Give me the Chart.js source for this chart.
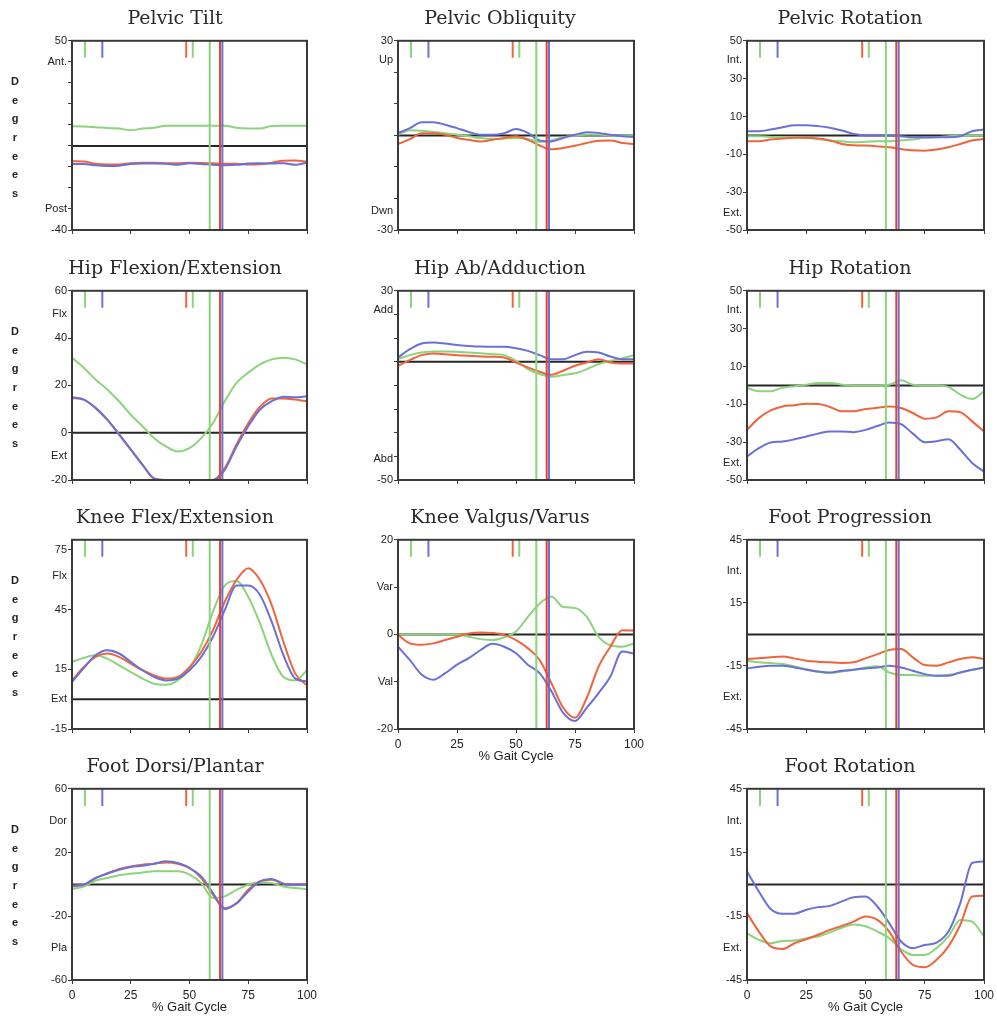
<!DOCTYPE html>
<html>
<head>
<meta charset="utf-8">
<script src="https://cdn.jsdelivr.net/npm/chart.js@4.4.1/dist/chart.umd.min.js"></script>
<style>
  body { margin: 0; background: #fff; }
  #wrap { position: relative; width: 997px; height: 1021px; overflow: hidden; }
</style>
</head>
<body>
<div id="wrap"></div>
<script>
'use strict'

// % gait cycle, shared by every curve
const gaitPct = [0, 5, 10, 15, 20, 25, 30, 35, 40, 45, 50, 55, 60, 65, 70, 75, 80, 85, 90, 95, 100];

// gait events (% cycle) : full height lines and short marks at the top
const footOffPct = { green: 58.6, red: 63.0, blue: 64.0 };
const topMarkPct = [5.5, 12.9, 48.6, 51.4];
const topMarkSide = ['green', 'blue', 'red', 'green'];

// Pelvic Tilt
const tiltG = [9.4, 9.2, 8.9, 8.5, 8.3, 7.4, 8.3, 8.6, 9.6, 9.6, 9.6, 9.6, 9.6, 9.6, 8.6, 8.3, 8.3, 9.5, 9.6, 9.6, 9.6];
const tiltR = [-7.3, -7.4, -8.5, -8.8, -8.8, -8.2, -8.0, -8.0, -8.2, -8.3, -8.0, -8.1, -8.3, -8.5, -8.5, -8.9, -8.7, -8.0, -7.0, -6.9, -7.6];
const tiltB = [-8.6, -8.6, -9.2, -9.5, -9.4, -8.6, -8.4, -8.4, -8.5, -9.0, -8.3, -8.6, -9.0, -9.2, -9.0, -8.4, -8.3, -8.4, -8.2, -9.0, -8.0];
const tiltMarks = [-40, -30, -20, -10, 0, 10, 20, 30, 40, 50];
const tiltLabels = [[50, '50'], [40, 'Ant.'], [-30, 'Post'], [-40, '-40']];

// Pelvic Obliquity
const oblG = [0.2, 1.6, 1.5, 1.1, 0.7, 0.2, -0.3, -0.8, -1.1, -1.0, -0.8, -1.1, -2.0, -1.6, -0.6, 0, 0.2, 0.2, 0, -0.1, -0.1];
const oblR = [-2.7, -1.2, 0.7, 0.7, 0.2, -0.8, -1.4, -1.9, -1.4, -0.8, -0.3, -1.4, -3.2, -4.4, -4.0, -3.3, -2.4, -1.7, -1.6, -2.4, -2.7];
const oblB = [0.7, 2.3, 4.2, 4.2, 3.4, 2.3, 1.1, 0.2, 0.2, 0.7, 2.0, 0.8, -1.6, -1.9, -0.8, 0.2, 1.0, 0.8, 0.2, -0.3, -0.5];
const oblMarks = [-30, -20, -10, 0, 10, 20, 30];
const oblLabels = [[30, '30'], [24, 'Up'], [-24, 'Dwn'], [-30, '-30']];

// Pelvic Rotation
const pRotG = [-0.4, -0.4, -0.8, -0.8, -1, -1.3, -1.9, -2.7, -3.1, -3.6, -3.4, -3.1, -3.1, -2.7, -2.2, -1.3, -1, -0.4, -0.1, -0.1, -0.1];
const pRotR = [-3.1, -3.1, -2.2, -1.7, -1.3, -1.3, -1.7, -2.7, -4.5, -5.2, -5.4, -5.8, -6.3, -7.2, -7.9, -8.1, -7.5, -6.3, -4.5, -2.7, -1.9];
const pRotB = [2.2, 2.2, 3.1, 4.3, 5.4, 5.4, 4.9, 4.0, 2.6, 0.8, 0, 0, -0.1, -0.4, -1, -1, -1, -1, -0.4, 2.2, 3.1];
const rotMarks = [-50, -30, -10, 10, 30, 50];
const rotLabels = [[50, '50'], [40, 'Int.'], [30, '30'], [10, '10'], [-10, '-10'], [-30, '-30'], [-41, 'Ext.'], [-50, '-50']];

// Hip Flexion/Extension
const hipFlexG = [31.7, 27.5, 22.5, 18.3, 13.3, 7.6, 2.7, -2.3, -5.8, -7.9, -6.5, -2.3, 4.1, 13.3, 21.1, 25.4, 28.9, 31.0, 31.7, 31.0, 28.9];
const hipFlexR = [14.7, 14.0, 10.5, 5.5, -0.5, -7.0, -13.5, -19.5, -20, -20, -20, -20, -20, -15, -5, 4, 11, 14.5, 14.5, 14, 13.3];
const hipFlexB = [15.0, 14.0, 10.5, 5.5, -0.8, -7.2, -13.6, -19.3, -20, -20, -20, -20, -20, -15.7, -5.8, 2.7, 9.8, 13.3, 15.2, 15.0, 15.4];
const hipFlexMarks = [-20, 0, 20, 40, 60];
const hipFlexLabels = [[60, '60'], [50, 'Flx'], [40, '40'], [20, '20'], [0, '0'], [-10, 'Ext'], [-20, '-20']];

// Hip Ab/Adduction
const hipAbdG = [1.1, 2.8, 3.9, 4.3, 4.3, 4.2, 3.9, 3.6, 3.2, 2.8, 0.4, -3.1, -5.2, -6.3, -5.6, -4.9, -3.1, -1.0, 0.4, 1.4, 2.8];
const hipAbdR = [-1.7, 0.7, 2.8, 3.5, 3.2, 2.8, 2.5, 2.2, 2.1, 1.8, -0.3, -2.4, -4.2, -5.5, -3.8, -1.7, -0.3, 1.1, -0.3, -0.7, -0.7];
const hipAbdB = [1.8, 5.3, 7.7, 8.1, 7.7, 7.1, 6.7, 6.4, 6.3, 6.3, 5.7, 4.6, 2.8, 1.1, 1.1, 2.8, 4.2, 3.9, 2.2, 1.1, 1.1];
const hipAbdMarks = [-50, -40, -30, -20, -10, 0, 10, 20, 30];
const hipAbdLabels = [[30, '30'], [22, 'Add'], [-41, 'Abd'], [-50, '-50']];

// Hip Rotation
const hipRotG = [-1.3, -3.1, -3.1, -1.3, -0.4, 0.4, 1.3, 1.3, 0.4, 0, 0, 0, 0.4, 2.7, 0.4, 0, 0, -0.8, -4.9, -7.2, -3.1];
const hipRotR = [-23.5, -17.3, -13.2, -11.1, -10.5, -9.7, -9.8, -11.4, -13.7, -13.7, -12.5, -11.8, -11.1, -11.9, -14.6, -17.6, -16.9, -13.7, -14.2, -19, -24.3];
const hipRotB = [-37.6, -33.2, -30.2, -29.7, -28.5, -27, -25.5, -24.3, -24.3, -24.7, -23.5, -21.5, -19.6, -20.5, -25.5, -30, -29.5, -28.5, -34, -41, -45.6];

// Knee Flex/Extension
const kneeFlexG = [18.7, 20.7, 22.0, 20.3, 17.0, 13.6, 10.3, 7.7, 7.2, 9.4, 15.3, 27.1, 43.9, 57.0, 59.3, 51.4, 38.0, 22.0, 11.1, 9.4, 14.5];
const kneeFlexR = [9.4, 16.1, 21.2, 22.9, 21.2, 17.8, 14.5, 11.9, 10.3, 11.1, 16.1, 23.7, 34.6, 48.9, 59.8, 65.7, 59.8, 47.2, 28.7, 12.8, 6.9];
const kneeFlexB = [8.6, 15.6, 22.0, 24.5, 22.9, 18.7, 14.5, 11.1, 9.4, 10.3, 14.5, 21.2, 31.3, 44.7, 57.0, 57.0, 52.3, 38.8, 22.0, 10.3, 8.9];
const kneeFlexMarks = [-15, 15, 45, 75];
const kneeFlexLabels = [[75, '75'], [62, 'Flx'], [45, '45'], [15, '15'], [0, 'Ext'], [-15, '-15']];

// Knee Valgus/Varus
const kneeVarG = [0, 0, 0, 0, 0, 0, -0.5, -1.0, -1.2, -0.6, 0.6, 3.7, 6.5, 8.0, 5.8, 5.6, 3.7, -0.5, -2.3, -2.6, -1.9];
const kneeVarR = [-0.1, -1.9, -2.2, -1.9, -1.2, -0.5, 0.2, 0.4, 0.3, -0.1, -1.2, -2.9, -5.4, -10.3, -15.5, -17.6, -13.4, -6.8, -2.6, 0.9, 0.8];
const kneeVarB = [-2.6, -5.4, -8.5, -9.6, -8.2, -6.4, -5.0, -3.3, -2.0, -2.6, -4.0, -6.4, -8.2, -12.0, -16.6, -18.3, -15.5, -12.4, -8.9, -3.6, -4.1];
const kneeVarMarks = [-20, -10, 0, 10, 20];
const kneeVarLabels = [[20, '20'], [10, 'Var'], [0, '0'], [-10, 'Val'], [-20, '-20']];

// Foot Progression
const footProgG = [-12.5, -13.3, -13.6, -14.1, -15.2, -16.5, -17.7, -18.4, -17.7, -16.8, -15.7, -15.2, -18.1, -19.3, -19.3, -19.7, -19.7, -19.2, -18.1, -16.8, -15.7];
const footProgR = [-11.7, -11.4, -10.9, -10.5, -11.4, -12.5, -13.0, -13.3, -13.6, -13.3, -11.4, -9.4, -7.4, -7.0, -10.9, -14.6, -14.9, -13.3, -11.7, -10.9, -11.7];
const footProgB = [-16.2, -15.4, -14.9, -14.9, -15.7, -16.8, -17.7, -18.1, -17.3, -16.8, -16.2, -15.7, -14.9, -15.7, -17.3, -18.9, -19.7, -19.7, -18.1, -16.8, -15.7];
const footMarks = [-45, -15, 15, 45];
const footLabels = [[45, '45'], [30, 'Int.'], [15, '15'], [-15, '-15'], [-30, 'Ext.'], [-45, '-45']];

// Foot Dorsi/Plantar
const dorsiG = [-2.9, -1.3, 2.3, 4.0, 5.7, 6.7, 7.5, 8.2, 8.2, 8.2, 6.1, 0.8, -8.6, -7.5, -3.4, -0.2, 1.3, 0.8, -1.3, -2.3, -2.9];
const dorsiR = [-0.8, -0.2, 4.0, 7.1, 9.6, 11.3, 12.4, 13.0, 13.8, 13.0, 10.3, 4.0, -6.5, -14.9, -11.7, -3.4, 1.9, 2.9, 0.4, -0.2, 0.2];
const dorsiB = [-1.3, -0.2, 4.0, 6.7, 9.2, 10.9, 11.7, 13.0, 14.5, 13.4, 10.3, 5.0, -5.5, -15.5, -12.0, -4.4, 1.9, 3.4, 0.4, -0.2, -0.2];
const dorsiMarks = [-60, -20, 20, 60];
const dorsiLabels = [[60, '60'], [40, 'Dor'], [20, '20'], [-20, '-20'], [-40, 'Pla'], [-60, '-60']];

// Foot Rotation
const footRotG = [-23.0, -26.1, -27.7, -26.6, -26.4, -25.3, -24.5, -22.6, -20.4, -18.9, -19.7, -22.2, -25.3, -30.5, -33.2, -33.2, -30.0, -24.5, -16.7, -17.5, -24.5];
const footRotR = [-13.5, -22.2, -29.2, -30.4, -27.7, -25.8, -23.7, -21.4, -19.5, -17.5, -15.1, -16.7, -22.2, -31.6, -37.9, -39.0, -35.5, -29.2, -19.0, -5.7, -5.3];
const footRotB = [6.1, -3.3, -11.6, -13.8, -13.8, -11.9, -10.7, -10.1, -8.0, -6.0, -5.7, -10.4, -18.2, -26.9, -30.0, -28.5, -27.4, -22.2, -8.8, 10.1, 10.8];

const xTicks = [0, 25, 50, 75, 100];

const colors = {
  green: '#8cd47c',
  red: '#f0643c',
  redEvent: '#e0452f',
  blue: '#6b70d8',
  zero: '#262626',
  frame: '#3a3a3a',
  text: '#222'
};

// page layout : canvas span, plot box and title centre per column / row
const cols = [
  { cl: 0, cr: 350, bl: 72, br: 307, tc: 175 },
  { cl: 345, cr: 655, bl: 398, br: 634, tc: 500 },
  { cl: 705, cr: 995, bl: 747, br: 984, tc: 850 }
];
const rows = [
  { bt: 41, bb: 230 },
  { bt: 291, bb: 480 },
  { bt: 540, bb: 729 },
  { bt: 789, bb: 980 }
];

const panels = [
  { title: 'Pelvic Tilt', col: 0, row: 0, min: -40, max: 50, marks: tiltMarks, labels: tiltLabels, g: tiltG, r: tiltR, b: tiltB },
  { title: 'Pelvic Obliquity', col: 1, row: 0, min: -30, max: 30, marks: oblMarks, labels: oblLabels, g: oblG, r: oblR, b: oblB },
  { title: 'Pelvic Rotation', col: 2, row: 0, min: -50, max: 50, marks: rotMarks, labels: rotLabels, g: pRotG, r: pRotR, b: pRotB },
  { title: 'Hip Flexion/Extension', col: 0, row: 1, min: -20, max: 60, marks: hipFlexMarks, labels: hipFlexLabels, g: hipFlexG, r: hipFlexR, b: hipFlexB },
  { title: 'Hip Ab/Adduction', col: 1, row: 1, min: -50, max: 30, marks: hipAbdMarks, labels: hipAbdLabels, g: hipAbdG, r: hipAbdR, b: hipAbdB },
  { title: 'Hip Rotation', col: 2, row: 1, min: -50, max: 50, marks: rotMarks, labels: rotLabels, g: hipRotG, r: hipRotR, b: hipRotB },
  { title: 'Knee Flex/Extension', col: 0, row: 2, min: -15, max: 80, marks: kneeFlexMarks, labels: kneeFlexLabels, g: kneeFlexG, r: kneeFlexR, b: kneeFlexB },
  { title: 'Knee Valgus/Varus', col: 1, row: 2, min: -20, max: 20, marks: kneeVarMarks, labels: kneeVarLabels, g: kneeVarG, r: kneeVarR, b: kneeVarB, xAxis: true },
  { title: 'Foot Progression', col: 2, row: 2, min: -45, max: 45, marks: footMarks, labels: footLabels, g: footProgG, r: footProgR, b: footProgB },
  { title: 'Foot Dorsi/Plantar', col: 0, row: 3, min: -60, max: 60, marks: dorsiMarks, labels: dorsiLabels, g: dorsiG, r: dorsiR, b: dorsiB, xAxis: true },
  { title: 'Foot Rotation', col: 2, row: 3, min: -45, max: 45, marks: footMarks, labels: footLabels, g: footRotG, r: footRotR, b: footRotB, xAxis: true }
];

// box round the plot area
const framePlugin = {
  id: 'frame',
  afterDatasetsDraw(chart) {
    const a = chart.chartArea;
    const ctx = chart.ctx;
    ctx.save();
    ctx.strokeStyle = colors.frame;
    ctx.lineWidth = 2;
    ctx.strokeRect(a.left, a.top, a.right - a.left, a.bottom - a.top);
    ctx.restore();
  }
};

// stacked "Degrees" on the left column
const degreesPlugin = {
  id: 'degrees',
  afterDraw(chart) {
    const ctx = chart.ctx;
    const top = chart.chartArea.top;
    ctx.save();
    ctx.fillStyle = colors.text;
    ctx.font = 'bold 11px "Liberation Sans", Arial, sans-serif';
    ctx.textAlign = 'center';
    ctx.textBaseline = 'middle';
    'Degrees'.split('').forEach((ch, i) => {
      ctx.fillText(ch, 15, top + 41 + i * 18.7);
    });
    ctx.restore();
  }
};

function curve(ys) {
  return gaitPct.map((x, i) => ({ x: x, y: ys[i] }));
}

function lineSet(data, color, width, smooth) {
  return {
    data: data,
    borderColor: color,
    borderWidth: width,
    pointRadius: 0,
    fill: false,
    cubicInterpolationMode: smooth ? 'monotone' : 'default',
    tension: 0
  };
}

function makePanel(p) {
  const c = cols[p.col];
  const r = rows[p.row];
  const xh = p.xAxis ? 36 : 10;
  const w = c.cr - c.cl;
  const h = 41 + (r.bb - r.bt) + xh;
  // left padding so the title (centred on the layout box) sits at tc
  const padL = 2 * c.tc - c.br - c.cl;
  const padR = c.cr - c.br;

  const canvas = document.createElement('canvas');
  canvas.width = w;
  canvas.height = h;
  canvas.style.cssText = 'position:absolute;left:' + c.cl + 'px;top:' + (r.bt - 41) + 'px;width:' + w + 'px;height:' + h + 'px;';
  document.getElementById('wrap').appendChild(canvas);

  const markSet = new Set(p.marks);
  const labelMap = new Map(p.labels);
  const yTicks = Array.from(new Set(p.marks.concat(p.labels.map(l => l[0])))).sort((a, b) => a - b);
  const markLen = (p.max - p.min) * 0.09;

  const datasets = [];
  // event lines on top
  datasets.push(lineSet([{ x: footOffPct.blue, y: p.min }, { x: footOffPct.blue, y: p.max }], colors.blue, 2, false));
  datasets.push(lineSet([{ x: footOffPct.red, y: p.min }, { x: footOffPct.red, y: p.max }], colors.redEvent, 2, false));
  datasets.push(lineSet([{ x: footOffPct.green, y: p.min }, { x: footOffPct.green, y: p.max }], colors.green, 2, false));
  topMarkPct.forEach((x, i) => {
    datasets.push(lineSet([{ x: x, y: p.max }, { x: x, y: p.max - markLen }], colors[topMarkSide[i]], 2, false));
  });
  // curves
  datasets.push(lineSet(curve(p.b), colors.blue, 2, true));
  datasets.push(lineSet(curve(p.r), colors.red, 2, true));
  datasets.push(lineSet(curve(p.g), colors.green, 2, true));
  // zero line
  datasets.push(lineSet([{ x: 0, y: 0 }, { x: 100, y: 0 }], colors.zero, 2, false));

  new Chart(canvas, {
    type: 'line',
    data: { datasets: datasets },
    plugins: p.col === 0 ? [framePlugin, degreesPlugin] : [framePlugin],
    options: {
      responsive: false,
      animation: false,
      events: [],
      layout: { padding: { left: padL, top: 0, bottom: 0, right: padR } },
      plugins: {
        legend: { display: false },
        tooltip: { enabled: false },
        title: {
          display: true,
          text: p.title,
          color: '#2a2a2a',
          font: { family: '"DejaVu Serif", serif', size: 19, weight: 'normal' },
          padding: { top: 8, bottom: 10 }
        }
      },
      scales: {
        x: {
          type: 'linear',
          min: 0,
          max: 100,
          afterBuildTicks: s => { s.ticks = xTicks.map(v => ({ value: v })); },
          afterFit: s => { s.height = xh; s.paddingLeft = 0; s.paddingRight = 0; },
          border: { display: false },
          grid: { drawOnChartArea: false, drawTicks: true, tickLength: 4, tickColor: colors.frame, tickWidth: 1 },
          ticks: {
            display: !!p.xAxis,
            color: colors.text,
            font: { family: '"Liberation Sans", Arial, sans-serif', size: 12 },
            padding: 4,
            maxRotation: 0,
            autoSkip: false
          },
          title: {
            display: !!p.xAxis,
            text: '% Gait Cycle',
            color: colors.text,
            font: { family: '"Liberation Sans", Arial, sans-serif', size: 13 },
            padding: { top: 0, bottom: 1 }
          }
        },
        y: {
          type: 'linear',
          min: p.min,
          max: p.max,
          afterBuildTicks: s => { s.ticks = yTicks.map(v => ({ value: v })); },
          afterFit: s => { s.width = c.bl - c.cl - padL; s.paddingTop = 0; s.paddingBottom = 0; },
          border: { display: false },
          grid: {
            drawOnChartArea: false,
            drawTicks: true,
            tickLength: 4,
            tickWidth: 1,
            tickColor: ctx => (ctx.tick && markSet.has(ctx.tick.value)) ? colors.frame : 'rgba(0,0,0,0)'
          },
          ticks: {
            autoSkip: false,
            color: colors.text,
            padding: 1,
            font: { family: '"Liberation Sans", Arial, sans-serif', size: 11 },
            callback: v => labelMap.has(v) ? labelMap.get(v) : ''
          }
        }
      }
    }
  });
}

panels.forEach(makePanel);
</script>
</body>
</html>
